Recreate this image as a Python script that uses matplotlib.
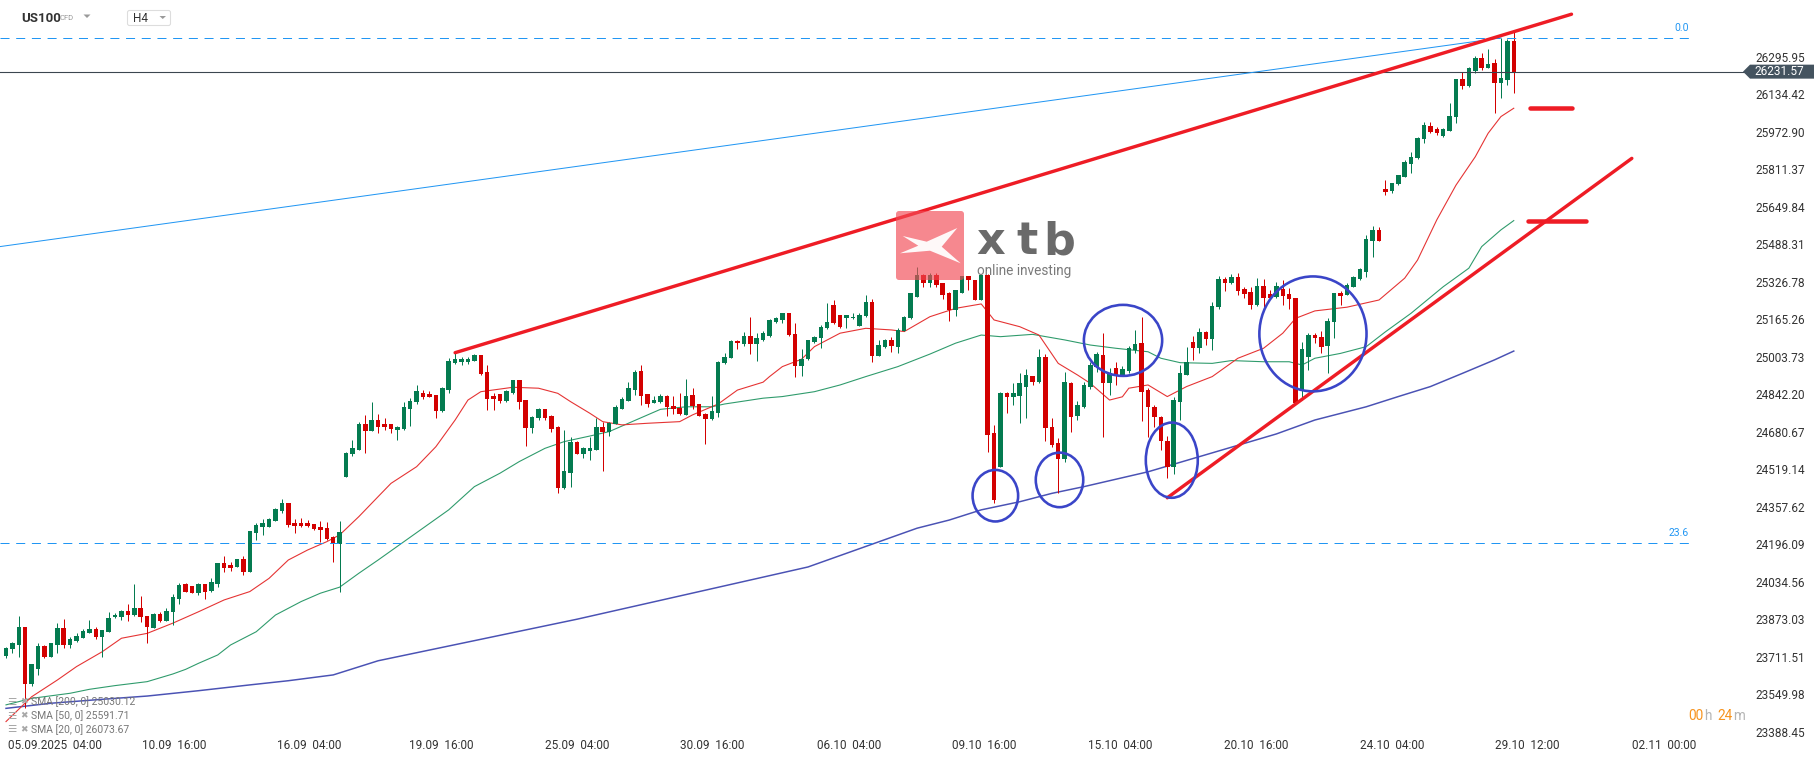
import matplotlib
matplotlib.use("Agg")
import matplotlib.pyplot as plt
from matplotlib.patches import Ellipse, Polygon, FancyBboxPatch
from matplotlib.transforms import IdentityTransform
import numpy as np

plt.rcParams['font.family'] = ['Roboto', 'DejaVu Sans']
plt.rcParams['lines.scale_dashes'] = False

# ------------------------------------------------------------------ data
opens = [23714, 23743, 23762, 23838, 23594, 23657, 23758, 23712, 23762, 23834,
         23762, 23781, 23794, 23815, 23829, 23798, 23819, 23881, 23884, 23908,
         23891, 23920, 23887, 23837, 23895, 23867, 23903, 23960, 24025, 24016,
         23987, 24025, 23995, 24025, 24115, 24108, 24099, 24131, 24078, 24246,
         24272, 24272, 24297, 24341, 24372, 24286, 24286, 24286, 24282, 24270,
         24266, 24229, 24196, 24487, 24583, 24602, 24714, 24685, 24731, 24714,
         24714, 24688, 24692, 24779, 24807, 24846, 24843, 24839, 24771, 24860,
         24978, 24982, 24980, 24987, 25011, 24938, 24836, 24842, 24814, 24849,
         24903, 24817, 24698, 24738, 24779, 24750, 24702, 24437, 24504, 24635,
         24585, 24599, 24602, 24700, 24681, 24714, 24779, 24814, 24860, 24942,
         24843, 24806, 24810, 24836, 24791, 24781, 24753, 24839, 24799, 24757,
         24734, 24763, 24975, 25000, 25073, 25059, 25093, 25057, 25076, 25093,
         25155, 25162, 25191, 25100, 24965, 24992, 25069, 25083, 25126, 25226,
         25183, 25169, 25169, 25136, 25179, 25241, 25008, 25047, 25076, 25047,
         25116, 25169, 25262, 25356, 25320, 25356, 25320, 25280, 25205, 25280,
         25351, 25334, 25248, 25356, 24674, 24530, 24849, 24829, 24834, 24875,
         24921, 24896, 25004, 24700, 24633, 24562, 24892, 24748, 24789, 24872,
         24961, 25011, 24892, 24954, 24925, 24944, 25033, 25061, 24860, 24789,
         24745, 24640, 24530, 24810, 24925, 25069, 25040, 25112, 25079, 25219,
         25337, 25320, 25346, 25294, 25281, 25226, 25310, 25274, 25262, 25294,
         25272, 25255, 24860, 25004, 25097, 25087, 25050, 25155, 25277, 25270,
         25305, 25337, 25370, 25504, 25550, 25725, 25719, 25746, 25779, 25834,
         25858, 25940, 25998, 25983, 25954, 25977, 26035, 26199, 26171, 26234,
         26292, 26249, 26267, 26184, 26196, 26364]
highs = [23755, 23776, 23887, 23840, 23679, 23772, 23760, 23770, 23858, 23872,
         23798, 23812, 23829, 23870, 23841, 23828, 23906, 23898, 23913, 23939,
         24025, 23973, 23888, 23898, 23906, 23923, 23982, 24030, 24030, 24017,
         24028, 24026, 24049, 24117, 24147, 24118, 24134, 24145, 24255, 24286,
         24305, 24308, 24351, 24391, 24374, 24305, 24308, 24300, 24283, 24297,
         24293, 24230, 24297, 24592, 24645, 24721, 24753, 24810, 24757, 24738,
         24715, 24704, 24807, 24824, 24882, 24860, 24856, 24840, 24875, 24997,
         25021, 25001, 25004, 25015, 25013, 24968, 24846, 24843, 24860, 24905,
         24905, 24819, 24750, 24783, 24780, 24751, 24705, 24688, 24659, 24642,
         24616, 24656, 24738, 24721, 24724, 24796, 24832, 24893, 24947, 24968,
         24845, 24836, 24843, 24838, 24836, 24846, 24908, 24868, 24800, 24760,
         24836, 24985, 25018, 25075, 25075, 25112, 25176, 25104, 25116, 25164,
         25173, 25192, 25192, 25148, 25036, 25077, 25093, 25140, 25234, 25248,
         25185, 25185, 25191, 25191, 25270, 25251, 25076, 25079, 25090, 25126,
         25178, 25278, 25392, 25358, 25363, 25363, 25322, 25281, 25293, 25353,
         25353, 25336, 25358, 25358, 24710, 24851, 24851, 24892, 24935, 24949,
         24922, 25036, 25015, 24738, 24652, 24939, 24896, 24814, 24896, 24982,
         25025, 25107, 24954, 24982, 24964, 25050, 25119, 25173, 24868, 24795,
         24750, 24660, 24830, 24968, 25044, 25093, 25126, 25113, 25241, 25351,
         25349, 25360, 25363, 25305, 25305, 25341, 25337, 25291, 25327, 25334,
         25298, 25257, 25068, 25104, 25104, 25116, 25169, 25279, 25288, 25320,
         25351, 25384, 25528, 25567, 25561, 25765, 25753, 25788, 25851, 25887,
         25949, 26016, 26016, 25995, 25988, 26095, 26200, 26232, 26253, 26299,
         26311, 26328, 26285, 26377, 26372, 26404]
lows = [23704, 23729, 23712, 23489, 23585, 23633, 23708, 23710, 23729, 23748,
        23748, 23776, 23790, 23812, 23786, 23712, 23817, 23877, 23870, 23867,
        23887, 23862, 23772, 23835, 23862, 23864, 23848, 23939, 23990, 23986,
        23977, 23959, 23992, 24013, 24078, 24081, 24096, 24063, 24075, 24214,
        24236, 24270, 24296, 24332, 24272, 24246, 24272, 24272, 24257, 24207,
        24214, 24121, 23992, 24485, 24576, 24600, 24590, 24684, 24677, 24688,
        24677, 24645, 24690, 24705, 24800, 24822, 24829, 24741, 24767, 24849,
        24972, 24968, 24972, 24985, 24925, 24774, 24774, 24806, 24810, 24843,
        24779, 24619, 24677, 24731, 24731, 24681, 24415, 24435, 24441, 24583,
        24566, 24559, 24600, 24513, 24662, 24712, 24777, 24813, 24839, 24796,
        24789, 24803, 24803, 24750, 24757, 24753, 24751, 24777, 24748, 24626,
        24731, 24746, 24973, 24997, 25037, 25051, 25014, 24985, 25073, 25090,
        25150, 25150, 25095, 24918, 24921, 24990, 25061, 25040, 25123, 25145,
        25126, 25126, 25166, 25134, 25173, 24982, 25006, 25043, 25025, 25018,
        25114, 25167, 25260, 25305, 25305, 25305, 25252, 25159, 25179, 25277,
        25291, 25246, 25246, 24595, 24375, 24528, 24760, 24796, 24720, 24738,
        24882, 24892, 24642, 24616, 24415, 24552, 24681, 24731, 24781, 24863,
        24939, 24656, 24839, 24882, 24921, 24935, 25021, 24728, 24659, 24700,
        24600, 24480, 24500, 24731, 24923, 24990, 25018, 25054, 25033, 25208,
        25288, 25317, 25270, 25255, 25208, 25222, 25219, 25255, 25255, 25226,
        25208, 24800, 24817, 24947, 25064, 25018, 24932, 25083, 25226, 25268,
        25304, 25335, 25346, 25432, 25501, 25700, 25708, 25744, 25777, 25797,
        25856, 25923, 25966, 25959, 25952, 25975, 26012, 26155, 26167, 26227,
        26239, 26246, 26052, 26117, 26174, 26141]
closes = [23748, 23769, 23838, 23594, 23679, 23758, 23712, 23769, 23834, 23762,
          23788, 23801, 23822, 23831, 23798, 23827, 23877, 23891, 23910, 23891,
          23920, 23881, 23841, 23895, 23867, 23908, 23967, 24020, 23992, 23987,
          24025, 23992, 24033, 24115, 24095, 24095, 24131, 24078, 24253, 24279,
          24286, 24305, 24346, 24375, 24279, 24276, 24275, 24275, 24262, 24259,
          24219, 24196, 24247, 24590, 24609, 24714, 24685, 24731, 24702, 24702,
          24692, 24702, 24789, 24814, 24856, 24832, 24832, 24771, 24870, 24985,
          24994, 24994, 24994, 25011, 24929, 24822, 24822, 24814, 24856, 24903,
          24810, 24698, 24746, 24779, 24741, 24692, 24437, 24513, 24635, 24585,
          24612, 24612, 24700, 24681, 24717, 24789, 24822, 24870, 24939, 24836,
          24800, 24817, 24836, 24786, 24777, 24757, 24836, 24791, 24750, 24734,
          24770, 24980, 25004, 25073, 25061, 25093, 25057, 25083, 25104, 25162,
          25169, 25191, 25097, 24965, 24992, 25076, 25087, 25133, 25152, 25148,
          25133, 25183, 25176, 25183, 25241, 25008, 25054, 25076, 25050, 25119,
          25176, 25277, 25356, 25323, 25356, 25313, 25270, 25205, 25291, 25351,
          25334, 25248, 25356, 24667, 24387, 24849, 24829, 24846, 24889, 24925,
          24896, 25004, 24695, 24623, 24562, 24896, 24745, 24796, 24882, 24968,
          25015, 24892, 24935, 24925, 24949, 25043, 25058, 24853, 24789, 24745,
          24640, 24530, 24817, 24932, 24982, 25040, 25112, 25079, 25222, 25337,
          25320, 25346, 25288, 25274, 25226, 25310, 25258, 25258, 25310, 25265,
          25251, 24803, 25037, 25097, 25083, 25047, 25158, 25277, 25265, 25313,
          25346, 25380, 25509, 25550, 25504, 25715, 25751, 25786, 25844, 25865,
          25947, 26002, 25973, 25966, 25983, 26041, 26199, 26171, 26246, 26292,
          26246, 26263, 26184, 26203, 26364, 26231.57]

sma20_idx = [0, 4, 8, 11, 15, 18, 22, 26, 30, 34, 38, 41, 44, 47, 50, 52, 55, 58, 60, 64,
             67, 70, 72, 74, 79, 83, 86, 88, 91, 93, 96, 100, 105, 107, 111, 114, 118, 119, 121, 124,
             126, 130, 134, 138, 140, 144, 148, 152, 154, 158, 161, 164, 167, 169, 172, 174, 175, 178, 181, 184,
             188, 192, 196, 199, 201, 204, 209, 214, 218, 220, 223, 226, 229, 231, 233, 235]
sma20_val = [23432, 23539, 23611, 23669, 23733, 23791, 23812, 23856, 23905, 23956,
             23992, 24049, 24128, 24171, 24207, 24236, 24315, 24401, 24458, 24530,
             24616, 24731, 24817, 24853, 24872, 24868, 24846, 24810, 24760, 24724,
             24710, 24717, 24724, 24753, 24800, 24860, 24894, 24918, 24961, 24993,
             25047, 25105, 25126, 25119, 25112, 25176, 25212, 25231, 25162, 25133,
             25097, 24975, 24925, 24889, 24817, 24831, 24868, 24882, 24832, 24875,
             24918, 24997, 25040, 25105, 25169, 25201, 25217, 25248, 25342, 25420,
             25593, 25743, 25865, 25966, 26038, 26074]
sma50_idx = [0, 4, 10, 13, 17, 22, 26, 28, 30, 33, 35, 39, 42, 46, 49, 52, 55, 58, 69, 73,
             77, 80, 84, 87, 91, 94, 97, 100, 102, 106, 110, 112, 118, 121, 126, 130, 134, 139, 144, 148,
             152, 155, 160, 165, 169, 173, 178, 180, 183, 188, 191, 196, 200, 202, 204, 208, 212, 215, 219, 224,
             228, 230, 233, 235]
sma50_val = [23504, 23532, 23554, 23571, 23587, 23604, 23637, 23657, 23683, 23719,
             23762, 23819, 23891, 23949, 23985, 24011, 24071, 24128, 24344, 24444,
             24502, 24552, 24609, 24638, 24662, 24681, 24717, 24753, 24777, 24788,
             24788, 24800, 24825, 24832, 24853, 24882, 24918, 24961, 25015, 25062,
             25097, 25090, 25100, 25076, 25054, 25040, 25025, 24997, 24978, 24975,
             24987, 24982, 24982, 24968, 24997, 25018, 25047, 25111, 25191, 25305,
             25385, 25478, 25550, 25590]
sma200_idx = [0, 7, 15, 22, 30, 38, 44, 51, 58, 89, 125, 142, 147, 152, 158, 163, 168, 173, 178, 198,
              204, 212, 217, 222, 227, 232, 235]
sma200_val = [23489, 23511, 23528, 23542, 23565, 23590, 23608, 23633, 23694, 23873,
              24098, 24265, 24300, 24344, 24379, 24415, 24444, 24476, 24508, 24671,
              24731, 24788, 24832, 24875, 24932, 24990, 25028]

ytick_labels = ["26295.95", "26134.42", "25972.90", "25811.37", "25649.84", "25488.31",
                "25326.78", "25165.26", "25003.73", "24842.20", "24680.67", "24519.14",
                "24357.62", "24196.09", "24034.56", "23873.03", "23711.51", "23549.98",
                "23388.45"]
xtick_labels = ["05.09.2025  04:00", "10.09  16:00", "16.09  04:00", "19.09  16:00",
                "25.09  04:00", "30.09  16:00", "06.10  04:00", "09.10  16:00",
                "15.10  04:00", "20.10  16:00", "24.10  04:00", "29.10  12:00",
                "02.11  00:00"]
legend_labels = ["SMA [200, 0] 25030.12", "SMA [50, 0] 25591.71", "SMA [20, 0] 26073.67"]
last_price = 26231.57
fib_levels = [26376.5, 24200.0]
fib_names = ["0.0", "23.6"]

# drawing-tool anchors (candle index, price)
upper_trend = ([70, 244], [25021, 26479])
lower_trend = ([181, 253.4], [24396, 25858])
blue_line = ([-0.94, 233], [25478, 26377])
level_marks = [([237.5, 244.1], 26076), ([237.2, 246.3], 25590)]
circles = [(154.2, 24405, 7.1, 222), (164.2, 24473, 7.4, 235), (174.1, 25074, 12.2, 306),
           (181.7, 24558, 8.1, 324), (203.7, 25102, 16.7, 495)]
xtick_pos = [7.6, 26.2, 47.2, 67.9, 89.0, 110.1, 131.4, 152.5, 173.6, 194.9, 216.0, 237.1, 258.4]

# ------------------------------------------------------------------ style
W, H = 1815, 761
GREEN = '#047b50'
RED = '#d30000'
PX = 0.72  # one pixel in points

fig = plt.figure(figsize=(W / 100, H / 100), dpi=100)
fig.patch.set_facecolor('white')
ax = fig.add_axes([0, 24 / H, 1745 / W, 737 / H])
ax.set_xlim(-0.935, 271.04)
ax.set_ylim(23365.6, 26540.2)
for s in ax.spines.values():
    s.set_visible(False)
ax.set_facecolor('white')

# moving averages
ax.plot(sma200_idx, sma200_val, color='#4a52b4', lw=1.5 * PX, zorder=2)
ax.plot(sma50_idx, sma50_val, color='#2f9b6c', lw=1.1 * PX, zorder=2)
ax.plot(sma20_idx, sma20_val, color='#e53333', lw=1.1 * PX, zorder=2)

# candles
o = np.array(opens, float)
c = np.array(closes, float)
hi = np.array(highs, float)
lo = np.array(lows, float)
idx = np.arange(len(o))
cols = np.where(c >= o, GREEN, RED)
ax.vlines(idx, lo, hi, colors=cols, lw=1.0 * PX, zorder=3)
ax.bar(idx, np.maximum(np.abs(c - o), 4.5), bottom=np.minimum(o, c), width=0.7,
       color=cols, linewidth=0, zorder=4)

# fib levels
x_fib_end = 262.5
for lvl, name in zip(fib_levels, fib_names):
    ax.plot([-0.935, x_fib_end], [lvl, lvl], color='#2196f3', lw=1.0 * PX,
            dashes=(6.5, 4.8), zorder=5)
    ax.text(x_fib_end - 0.2, lvl + 22, name, color='#2196f3', fontsize=7.5,
            ha='right', va='bottom', zorder=6)

# current price line
ax.axhline(last_price, color='#3b4650', lw=1.1 * PX, zorder=5)

# drawing tools
ax.plot(*blue_line, color='#2196f3', lw=1.0 * PX, zorder=6)
ax.plot(*upper_trend, color='#ee1c25', lw=3.4 * PX, solid_capstyle='round', zorder=7)
ax.plot(*lower_trend, color='#ee1c25', lw=3.4 * PX, solid_capstyle='round', zorder=7)
for xs, lvl in level_marks:
    ax.plot(xs, [lvl, lvl], color='#ee1c25', lw=4.5 * PX, solid_capstyle='round', zorder=7)
for cx, cy, w, h in circles:
    ax.add_patch(Ellipse((cx, cy), w, h, fill=False, ec='#3a45c8', lw=2.6 * PX, zorder=8))

# axes ticks
ax.yaxis.tick_right()
ax.set_yticks([float(t) for t in ytick_labels])
ax.set_yticklabels(ytick_labels)
ax.tick_params(axis='y', length=0, pad=7.4, labelsize=8.5, labelcolor='#333333')
ax.set_xticks(xtick_pos)
ax.set_xticklabels(xtick_labels)
ax.tick_params(axis='x', length=0, pad=1.5, labelsize=8.5, labelcolor='#333333')

# ------------------------------------------------------------------ overlays (pixel coords)
ID = IdentityTransform()


def fy(y):
    return H - y


fig.canvas.draw()
yp = ax.transData.transform((0, last_price))[1]
tag = Polygon([(1743, yp), (1750, yp + 7), (W, yp + 7), (W, yp - 7), (1750, yp - 7)],
              closed=True, fc='#44535f', ec='none', transform=ID, zorder=20)
fig.add_artist(tag)
fig.text(1754 / W, yp / H, f"{last_price:.2f}", color='white', fontsize=8.5,
         ha='left', va='center', zorder=21)

# header
fig.text(21 / W, fy(18.5) / H, "US100", fontsize=9.5, fontweight='bold', color='#333333',
         va='center', ha='left')
fig.text(60 / W, fy(18.5) / H, "CFD", fontsize=5.5, color='#999999', va='center', ha='left')
fig.add_artist(Polygon([(83.5, fy(14.5)), (90.5, fy(14.5)), (87, fy(18))], closed=True,
                       fc='#9a9a9a', ec='none', transform=ID))
fig.add_artist(FancyBboxPatch((127.5, fy(25.5)), 43, 15, boxstyle='round,pad=0,rounding_size=2',
                              fc='white', ec='#dddddd', lw=0.8, transform=ID))
fig.text(132.5 / W, fy(18.5) / H, "H4", fontsize=8.5, color='#333333', va='center', ha='left')
fig.add_artist(Polygon([(159.5, fy(16)), (166, fy(16)), (162.75, fy(19))], closed=True,
                       fc='#9a9a9a', ec='none', transform=ID))

# legend (bottom-left)
for lab, ypx in zip(legend_labels, [701.7, 715.7, 729.3]):
    fig.text(7 / W, fy(ypx) / H, "\u2630", fontsize=7.5, color='#a8a8a8', va='center',
             ha='left', family='DejaVu Sans')
    fig.text(20 / W, fy(ypx) / H, "\u2716", fontsize=6.5, color='#a8a8a8', va='center',
             ha='left', family='DejaVu Sans')
    fig.text(31 / W, fy(ypx) / H, lab, fontsize=7.5, color='#777777', va='center', ha='left')

# countdown
for txt, xpx, col in [("00", 1688, '#f7931e'), ("h", 1704.5, '#b5b5b5'),
                      ("24", 1717.5, '#f7931e'), ("m", 1733, '#b5b5b5')]:
    fig.text(xpx / W, fy(715.7) / H, txt, fontsize=9.8, color=col, va='center', ha='left')

# watermark logo
fig.add_artist(FancyBboxPatch((896, fy(280)), 68, 69, boxstyle='round,pad=0,rounding_size=3',
                              fc='#f24a55', ec='none', alpha=0.66, transform=ID, zorder=15))
xmark = [(902.7, 236), (926.7, 241.7), (957.3, 228), (941.7, 246.7), (960.7, 263.3),
         (930, 250.7), (900, 253.3), (918.3, 245.7)]
fig.add_artist(Polygon([(x, fy(y)) for x, y in xmark], closed=True, fc='white', ec='none',
                       alpha=0.95, transform=ID, zorder=16))
for ch, xpx in [("x", 976), ("t", 1016), ("b", 1043)]:
    fig.text(xpx / W, fy(263.5) / H, ch, fontsize=32, fontweight='bold', color='#6a6a6a',
             ha='left', va='bottom', family='DejaVu Sans', zorder=16)
fig.text(977 / W, fy(264) / H, "online investing", fontsize=9.8, color='#7a7a7a',
         ha='left', va='top', zorder=16)

fig.savefig("out.png", dpi=100, facecolor='white')
